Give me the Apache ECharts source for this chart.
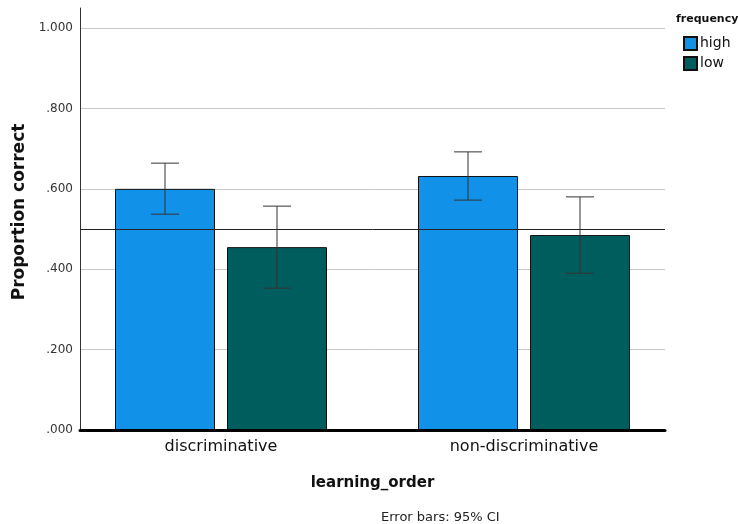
<!DOCTYPE html>
<html>
<head>
<meta charset="utf-8">
<script src="https://cdn.jsdelivr.net/npm/echarts@6/dist/echarts.min.js"></script>
<style>
  html, body { margin: 0; padding: 0; background: #fff; }
  #chart { width: 738px; height: 524px; }
</style>
</head>
<body>
<div id="chart"></div>
<script>
// learning_order x frequency, proportion correct with 95% CI
const categories = ['discriminative', 'non-discriminative'];
const seriesNames = ['high', 'low'];
const highMean = [0.600, 0.632];
const highLower = [0.537, 0.572];
const highUpper = [0.664, 0.692];
const lowMean = [0.455, 0.485];
const lowLower = [0.353, 0.390];
const lowUpper = [0.557, 0.580];
const yTicks = [0, 0.2, 0.4, 0.6, 0.8, 1.0];
const chanceLevel = 0.5;

const FONT = 'DejaVu Sans';
const colors = ['#1192e8', '#005d5d'];
const BAR_W = 100;
const BAR_GAP = 12;

function tickLabel(v) {
  const s = v.toFixed(3);
  return s.startsWith('0') ? s.slice(1) : s;
}

function errorBars(idx, lower, upper) {
  const offset = (idx === 0 ? -1 : 1) * (BAR_W + BAR_GAP) / 2;
  return {
    type: 'custom',
    name: seriesNames[idx] + ' CI',
    xAxisIndex: 1,
    yAxisIndex: 1,
    z: 5,
    silent: true,
    data: categories.map((c, i) => [i, lower[i], upper[i]]),
    renderItem(params, api) {
      const lo = api.coord([api.value(0), api.value(1)]);
      const hi = api.coord([api.value(0), api.value(2)]);
      const x = lo[0] + offset;
      const cap = 14;
      const style = { stroke: '#333', lineWidth: 1 };
      return {
        type: 'group',
        children: [
          { type: 'line', shape: { x1: x, y1: lo[1], x2: x, y2: hi[1] }, style },
          { type: 'line', shape: { x1: x - cap, y1: hi[1], x2: x + cap, y2: hi[1] }, style },
          { type: 'line', shape: { x1: x - cap, y1: lo[1], x2: x + cap, y2: lo[1] }, style }
        ]
      };
    }
  };
}

const chart = echarts.init(document.getElementById('chart'));
chart.setOption({
  animation: false,
  textStyle: { fontFamily: FONT },
  legend: {
    orient: 'vertical',
    left: 683,
    top: 36,
    padding: 0,
    icon: 'rect',
    itemWidth: 13,
    itemHeight: 13,
    itemGap: 5,
    selectedMode: false,
    data: seriesNames,
    textStyle: { fontSize: 14, color: '#111', lineHeight: 13, padding: [0, 0, 0, -2] }
  },
  graphic: [
    {
      type: 'text',
      left: 676,
      top: 14,
      style: { text: 'frequency', font: 'bold 11px ' + FONT, fill: '#111' }
    },
    {
      type: 'text',
      left: 381,
      top: 511,
      style: { text: 'Error bars: 95% CI', font: '13px ' + FONT, fill: '#222' }
    }
  ],
  grid: [
    // axis frame: x axis line, y axis line and axis titles
    { left: 80, right: 73, top: 8, bottom: 94 },
    // bars and error bars
    { left: 69.5, right: 62.5, top: 8, bottom: 94 },
    // tick labels and grid lines
    { left: 80, right: 73, top: 28, bottom: 94 }
  ],
  xAxis: [
    {
      type: 'category',
      gridIndex: 0,
      data: categories,
      name: 'learning_order',
      nameLocation: 'middle',
      nameGap: 46,
      nameTextStyle: { fontSize: 15, fontWeight: 'bold', color: '#111' },
      axisLine: { lineStyle: { color: '#000', width: 3 } },
      axisTick: { show: false },
      axisLabel: { show: false },
      z: 10
    },
    {
      type: 'category',
      gridIndex: 1,
      data: categories,
      axisLine: { show: false },
      axisTick: { show: false },
      axisLabel: { fontSize: 16, color: '#111', margin: 9 }
    },
    {
      type: 'category',
      gridIndex: 2,
      data: categories,
      show: false
    }
  ],
  yAxis: [
    {
      type: 'value',
      gridIndex: 0,
      min: 0,
      max: 1.05,
      name: 'Proportion correct',
      nameLocation: 'middle',
      nameGap: 52,
      nameTextStyle: { fontSize: 17, fontWeight: 'bold', color: '#111', padding: [0, 0, 0, 14] },
      axisLine: { show: true, lineStyle: { color: '#333', width: 1 } },
      axisTick: { show: false },
      axisLabel: { show: false },
      splitLine: { show: false }
    },
    {
      type: 'value',
      gridIndex: 1,
      min: 0,
      max: 1.05,
      show: false
    },
    {
      type: 'value',
      gridIndex: 2,
      min: 0,
      max: 1.0,
      interval: 0.2,
      axisLine: { show: false },
      axisTick: { show: false },
      axisLabel: { fontSize: 12, color: '#333', margin: 7, formatter: tickLabel },
      splitLine: { show: true, lineStyle: { color: '#c8c8c8', width: 1 } }
    }
  ],
  series: [
    {
      type: 'line',
      name: 'chance',
      xAxisIndex: 2,
      yAxisIndex: 2,
      data: [],
      z: 6,
      markLine: {
        silent: true,
        symbol: 'none',
        label: { show: false },
        lineStyle: { color: '#222', width: 1, type: 'solid' },
        data: [{ yAxis: chanceLevel }]
      }
    },
    {
      type: 'bar',
      name: seriesNames[0],
      xAxisIndex: 1,
      yAxisIndex: 1,
      data: highMean,
      barWidth: BAR_W,
      barGap: (BAR_GAP / BAR_W * 100) + '%',
      itemStyle: { color: colors[0], borderColor: '#111', borderWidth: 1 }
    },
    {
      type: 'bar',
      name: seriesNames[1],
      xAxisIndex: 1,
      yAxisIndex: 1,
      data: lowMean,
      barWidth: BAR_W,
      barGap: (BAR_GAP / BAR_W * 100) + '%',
      itemStyle: { color: colors[1], borderColor: '#111', borderWidth: 1 }
    },
    errorBars(0, highLower, highUpper),
    errorBars(1, lowLower, lowUpper)
  ]
});
window.addEventListener('resize', () => { chart.resize(); });
</script>
</body>
</html>
